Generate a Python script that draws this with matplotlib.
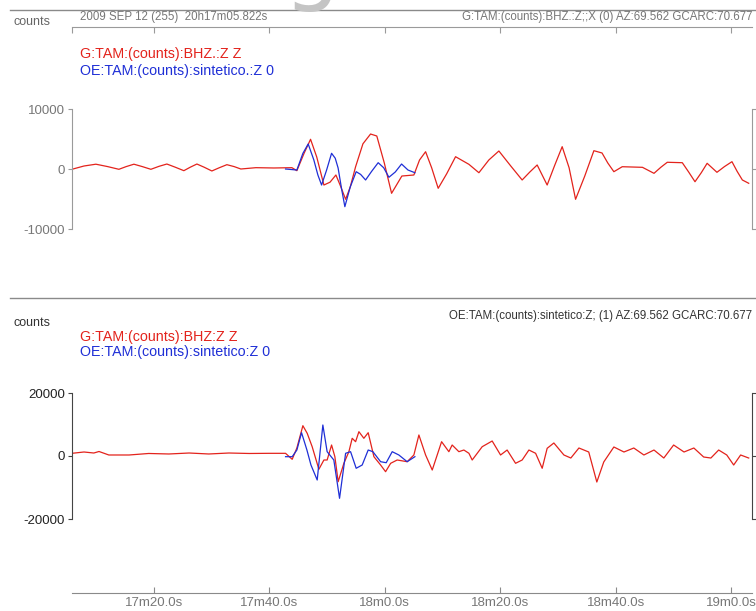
import numpy as np
import matplotlib.pyplot as plt
from matplotlib.lines import Line2D

plt.rcParams['font.family'] = ['Liberation Sans', 'DejaVu Sans']

# time axis in seconds after 20h17m00s
t_start = 5.822
t_end = 123.57
tick_times = [20, 40, 60, 80, 100, 120]
tick_labels = ['17m20.0s', '17m40.0s', '18m0.0s', '18m20.0s', '18m40.0s', '19m0.0s']

# panel 1: observed (red) and synthetic (blue), counts
obs1_t = [5.8, 7.9, 9.96, 12.0, 13.94, 15.2, 16.54, 18.0, 19.48, 20.9, 22.25, 23.7, 25.19, 26.3,
          27.45, 28.7, 30.04, 31.3, 32.64, 33.9, 35.06, 37.66, 40.78,
          43.9, 44.76, 46.0, 47.13, 48.2, 49.44, 50.5, 51.52, 52.3, 53.2, 54.0, 54.93, 56.2, 57.52,
          58.6, 59.9, 61.16, 62.94, 65.02, 66.0, 67.05, 68.1, 69.23, 70.7, 72.24, 74.55, 76.28,
          78.0, 79.74, 81.8, 83.77, 85.1, 86.37, 88.1, 89.4, 90.7, 91.9, 93.02, 94.6, 96.19,
          97.6, 98.6, 99.65, 101.1, 104.6, 106.6, 107.8, 108.9, 111.5, 112.6, 113.7, 114.8,
          115.8, 117.5, 118.8, 120.1, 121.0, 121.9, 123.0]
obs1_v = [-50, 500, 800, 400, -50, 400, 800, 400, -50, 450, 830, 300, -280, 300,
          830, 300, -330, 200, 720, 400, 0, 220, 170,
          220, -280, 2600, 4950, 2000, -2670, -2200, -1000, -2800, -5050, -3000, 380, 4200, 5830,
          5500, 1000, -4050, -1170, -1000, 1500, 2880, 200, -3220, -800, 2050, 780, -620,
          1500, 3000, 500, -1830, -500, 670, -2670, 600, 3720, 200, -5050, -1200, 3050,
          2670, 1000, -450, 380, 280, -720, 300, 1120, 1050, -500, -2120, -600,
          950, -550, 400, 1220, -400, -1830, -2380]

syn1_t = [42.8, 44.76, 45.8, 46.72, 47.7, 48.4, 49.04, 49.9, 50.77, 51.4, 51.9, 52.5, 53.07,
          54.0, 55.03, 55.8, 56.66, 57.7, 58.84, 59.8, 60.7, 61.8, 62.89, 64.0, 65.2]
syn1_v = [0, -170, 2600, 4170, 1500, -1000, -2670, -200, 2620, 1800, 170, -3300, -6280,
          -3000, -450, -900, -1830, -400, 1050, 200, -1380, -500, 830, -170, -620]

# panel 2: observed (red) and synthetic (blue), counts
obs2_t = [5.8, 7.9, 9.6, 10.5, 12.2, 15.7, 19.1, 22.6, 26.1, 29.5, 33.0, 36.5, 39.9, 42.8,
          43.95, 44.76, 45.8, 46.55, 47.41, 48.57, 49.44, 50.0, 50.77, 51.34, 51.91, 52.9,
          53.77, 54.34, 54.93, 55.5, 56.36, 57.11, 58.1, 59.26, 60.12, 61.0, 62.13, 63.86,
          65.02, 65.89, 67.05, 68.2, 69.82, 71.08, 71.65, 72.81, 73.68, 74.55, 75.12, 76.85,
          78.58, 80.03, 81.17, 82.63, 83.77, 84.94, 86.1, 87.24, 88.1, 89.26, 91.0, 92.2,
          93.6, 95.3, 96.7, 97.9, 99.65, 101.4, 103.1, 104.85, 106.6, 108.3, 110.0, 111.8,
          113.5, 115.2, 116.45, 117.8, 119.2, 120.4, 121.6, 123.0]
obs2_v = [850, 1270, 950, 1430, 320, 320, 800, 640, 950, 640, 950, 800, 850, 850,
          -1050, 2540, 9620, 7200, 2950, -4220, -1270, -1270, 3490, -220, -8160, -2320,
          1370, 5620, 4540, 7720, 5620, 7400, -220, -2860, -4980, -2320, -1270, -1810,
          320, 6670, 320, -4450, 4540, 1370, 3490, 1370, 1900, 860, -1270, 2950,
          4760, 320, 1900, -2320, -1270, 1900, 860, -3900, 2440, 4130, 320, -640,
          2540, 1270, -8260, -1900, 2860, 1270, 2540, 320, 1900, -640, 3490, 1270,
          2540, -320, -640, 1900, 320, -2860, 320, -640]

syn2_t = [42.8, 43.95, 44.76, 45.57, 46.5, 47.2, 48.28, 49.26, 50.0, 51.16, 52.15, 53.2,
          54.06, 55.03, 56.07, 57.11, 57.92, 59.26, 60.23, 61.27, 62.42, 63.86, 65.2]
syn2_v = [-220, -220, 1900, 7400, 1900, -2860, -7620, 9840, 1370, -1270, -13430, 860,
          1370, -3900, -2860, 1900, 1370, -1810, -2130, 1370, 320, -1810, -220]

red = '#e3231c'
blue = '#1f2fd6'
W, H = 756, 611


def fx(x):
    return x / W


def fy(y):
    return 1 - y / H


fig = plt.figure(figsize=(W / 100, H / 100), dpi=100)

# big grey watermark glyph, mostly cut off at the top
fig.text(fx(283), fy(-7), 'g', fontsize=64, color='#c4c4c4', ha='left', va='baseline',
         family='DejaVu Sans')

# separator lines
for ysep in [10, 298]:
    fig.add_artist(Line2D([fx(10), 1], [fy(ysep), fy(ysep)], color='#8a8a8a', lw=1.0))

ax1 = fig.add_axes([fx(72), fy(298), fx(752) - fx(72), fy(27) - fy(298)])
ax2 = fig.add_axes([fx(72), fy(593), fx(752) - fx(72), fy(300) - fy(593)])

ax1.plot(obs1_t, obs1_v, color=red, lw=0.9)
ax1.plot(syn1_t, syn1_v, color=blue, lw=0.9)
ax2.plot(obs2_t, obs2_v, color=red, lw=0.9)
ax2.plot(syn2_t, syn2_v, color=blue, lw=0.9)

# y limits from pixel positions of the ticks
ax1.set_ylim(-(298 - 169) / 60 * 10000, (169 - 27) / 60 * 10000)
ax2.set_ylim(-(593 - 456) / 63 * 20000, (456 - 300) / 63 * 20000)

for ax, lim, col in [(ax1, 10000, '#9a9a9a'), (ax2, 20000, '#444444')]:
    ax.set_xlim(t_start, t_end)
    ax.set_facecolor('none')
    ax.spines['left'].set_bounds(-lim, lim)
    ax.spines['right'].set_bounds(-lim, lim)
    ax.spines['left'].set_color(col)
    ax.spines['right'].set_color(col)
    ax.set_yticks([-lim, 0, lim])
    ax.set_yticklabels(['-%d' % lim, '0', '%d' % lim])
    ax.tick_params(axis='y', left=True, right=True, direction='out', length=3, pad=2,
                   color=col, labelcolor='#777777' if ax is ax1 else '#222222', labelsize=9.5)

# top panel: time axis along top, no labels
ax1.spines['bottom'].set_visible(False)
ax1.spines['top'].set_color('#9a9a9a')
ax1.set_xticks([t_start] + tick_times)
ax1.tick_params(axis='x', bottom=False, top=True, labelbottom=False, direction='in',
                length=4, color='#9a9a9a')

# bottom panel: time axis along bottom
ax2.spines['top'].set_visible(False)
ax2.spines['bottom'].set_color('#8a8a8a')
ax2.set_xticks(tick_times)
ax2.set_xticklabels(tick_labels)
ax2.tick_params(axis='x', direction='in', length=4, color='#8a8a8a', labelcolor='#777777',
                labelsize=9.5, pad=3)

# header texts
fig.text(fx(14), fy(22), 'counts', fontsize=9, color='#666666', va='center')
fig.text(fx(80), fy(17), '2009 SEP 12 (255)  20h17m05.822s', fontsize=8.3, color='#777777',
         va='center')
fig.text(fx(752), fy(17), 'G:TAM:(counts):BHZ.:Z;;X (0) AZ:69.562 GCARC:70.677', fontsize=8.3,
         color='#777777', va='center', ha='right')
fig.text(fx(80), fy(54), 'G:TAM:(counts):BHZ.:Z Z', fontsize=10.3, color=red, va='center')
fig.text(fx(80), fy(71), 'OE:TAM:(counts):sintetico.:Z 0', fontsize=10.3, color=blue,
         va='center')

fig.text(fx(14), fy(323), 'counts', fontsize=9, color='#333333', va='center')
fig.text(fx(752), fy(316), 'OE:TAM:(counts):sintetico:Z; (1) AZ:69.562 GCARC:70.677',
         fontsize=8.3, color='#333333', va='center', ha='right')
fig.text(fx(80), fy(337), 'G:TAM:(counts):BHZ:Z Z', fontsize=10.3, color=red, va='center')
fig.text(fx(80), fy(352), 'OE:TAM:(counts):sintetico:Z 0', fontsize=10.3, color=blue,
         va='center')

fig.savefig('out.png', dpi=100)
